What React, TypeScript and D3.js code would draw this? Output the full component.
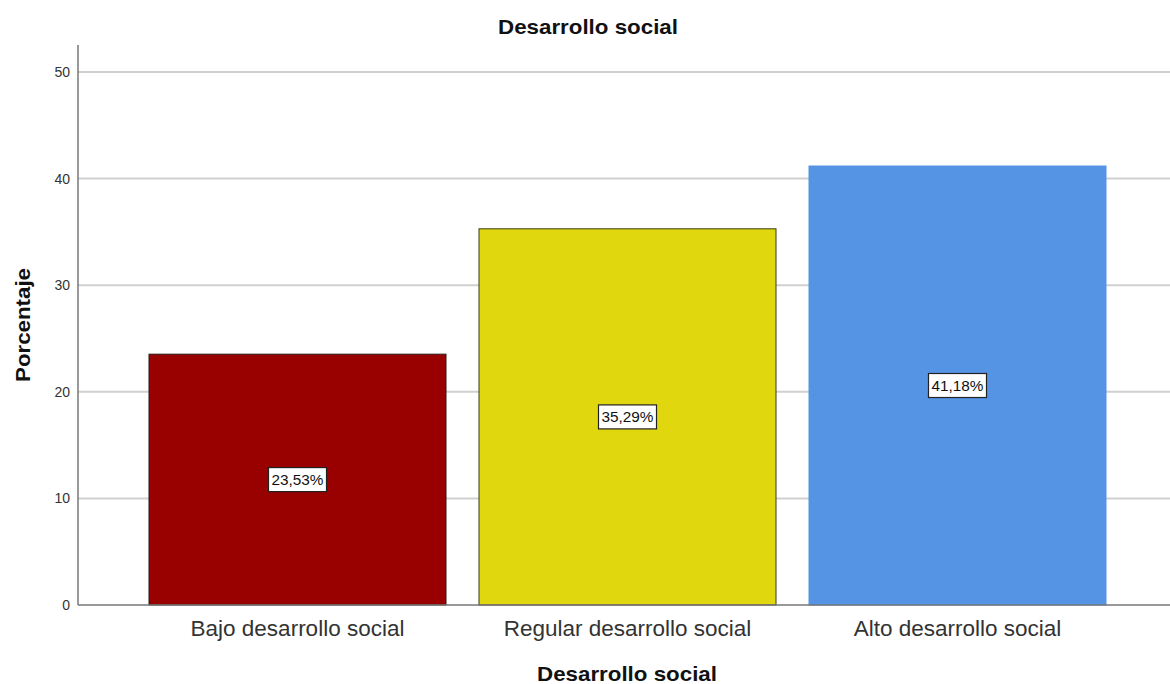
import React from "react";
import * as d3 from "d3";

const categories = ["Bajo desarrollo social", "Regular desarrollo social", "Alto desarrollo social"];
const values = [23.53, 35.29, 41.18];
const labels = ["23,53%", "35,29%", "41,18%"];
const colors = ["#990000", "#e1d70e", "#5594e4"];
const strokes = ["#2a1a1a", "#3a3a10", "#5594e4"];
const yTicks = [0, 10, 20, 30, 40, 50];

const W = 1170, H = 684;
const axisX = 78, plotRight = 1170, plotTop = 45, plotBottom = 605;

export default function App() {
  const y = d3.scaleLinear().domain([0, 50]).range([605, 72]);
  const x = d3.scaleBand<string>().domain(categories).range([132.5, 1122.5]).paddingInner(0.1).paddingOuter(0.05);
  const font = "'Liberation Sans', Arial, sans-serif";
  return (
    <svg width={W} height={H} style={{ position: "absolute", left: 0, top: 0, background: "#fff" }} fontFamily={font}>
      <rect x={0} y={0} width={W} height={H} fill="#fff" />
      <text x={588} y={34} textAnchor="middle" fontSize={21} fontWeight="bold" fill="#111" textLength={180} lengthAdjust="spacingAndGlyphs">Desarrollo social</text>
      {yTicks.filter(t => t > 0).map(t => (
        <line key={t} x1={axisX} x2={plotRight} y1={y(t)} y2={y(t)} stroke="#d0d0d0" strokeWidth={2} />
      ))}
      {yTicks.map(t => (
        <text key={"t" + t} x={70} y={y(t) + 5} textAnchor="end" fontSize={14} fill="#333">{t}</text>
      ))}
      {categories.map((c, i) => {
        const bx = x(c)!;
        const bw = x.bandwidth();
        const top = y(values[i]);
        const cy = (top + y(0)) / 2;
        const cx = bx + bw / 2;
        return (
          <g key={c}>
            <rect x={bx} y={top} width={bw} height={y(0) - top} fill={colors[i]} stroke={strokes[i]} strokeWidth={1} />
            <rect x={cx - 29} y={cy - 12} width={58} height={24} fill="#fff" stroke="#222" strokeWidth={1.2} />
            <text x={cx} y={cy + 5.5} textAnchor="middle" fontSize={15} fill="#111" textLength={52} lengthAdjust="spacingAndGlyphs">{labels[i]}</text>
            <text x={cx} y={636} textAnchor="middle" fontSize={22.5} fill="#333">{c}</text>
          </g>
        );
      })}
      <line x1={axisX} x2={axisX} y1={plotTop} y2={plotBottom} stroke="#777" strokeWidth={1.5} />
      <line x1={axisX} x2={plotRight} y1={plotBottom} y2={plotBottom} stroke="#777" strokeWidth={1.5} />
      <text x={627} y={681} textAnchor="middle" fontSize={21} fontWeight="bold" fill="#111" textLength={180} lengthAdjust="spacingAndGlyphs">Desarrollo social</text>
      <text transform="translate(30,325) rotate(-90)" textAnchor="middle" fontSize={21} fontWeight="bold" fill="#111" textLength={114} lengthAdjust="spacingAndGlyphs">Porcentaje</text>
    </svg>
  );
}
